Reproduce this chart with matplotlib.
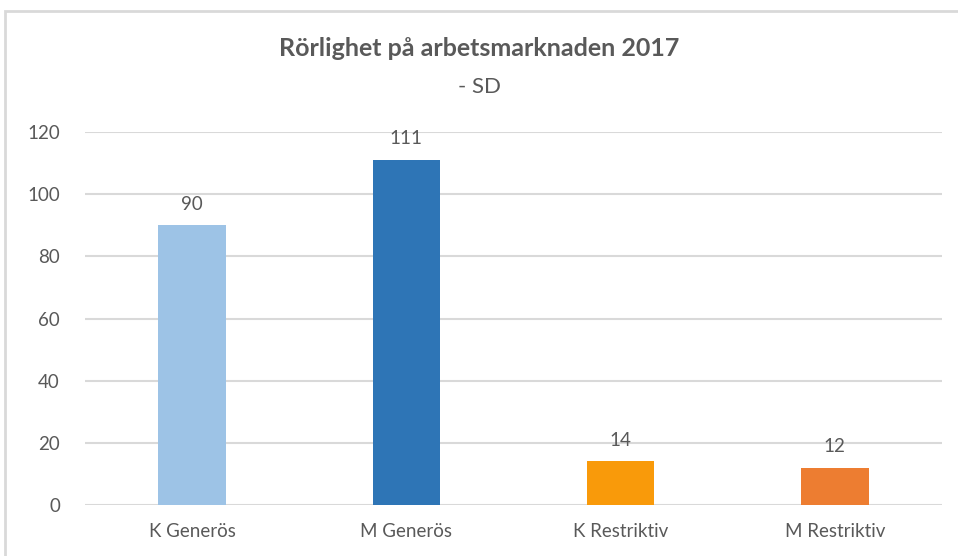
import matplotlib
matplotlib.use("Agg")
import matplotlib.pyplot as plt
from matplotlib.patches import Rectangle

categories = ["K Generös", "M Generös", "K Restriktiv", "M Restriktiv"]
values = [90, 111, 14, 12]
colors = ["#9DC3E6", "#2E75B6", "#F99A0A", "#ED7D31"]
yticks = [0, 20, 40, 60, 80, 100, 120]
title = "Rörlighet på arbetsmarknaden 2017"
subtitle = "- SD"

plt.rcParams['font.family'] = ['Lato', 'DejaVu Sans']
txt = "#595959"

W, H = 958, 556
fig = plt.figure(figsize=(W/100, H/100), dpi=100)
fig.patch.set_facecolor("white")

# outer chart frame
fig.patches.append(Rectangle((5/W, -0.1), 1.2, (H-11)/H + 0.1, transform=fig.transFigure,
                             fill=False, edgecolor="#D9D9D9", linewidth=2))

ax = fig.add_axes([85/W, 1-505/H, (942-85)/W, (505-132)/H])
x = range(len(categories))
bars = ax.bar(x, values, width=0.315, color=colors, zorder=3)
ax.set_xlim(-0.5, 3.5)
ax.set_ylim(0, 120)
ax.set_yticks(yticks)
ax.set_xticks(list(x))
ax.set_xticklabels(categories)
ax.grid(axis="y", color="#D9D9D9", linewidth=1.5, zorder=0)
ax.set_axisbelow(True)
for s in ax.spines.values():
    s.set_visible(False)
ax.tick_params(axis="both", length=0, colors=txt, labelsize=13.5)
ax.tick_params(axis="x", pad=13)
ax.tick_params(axis="y", pad=18)
for b, v in zip(bars, values):
    ax.annotate(str(v), (b.get_x() + b.get_width()/2, v), xytext=(0, 9),
                textcoords="offset points", ha="center", va="bottom",
                fontsize=13.5, color=txt)

fig.text(0.5, 1-48/H, title, ha="center", va="center", fontsize=18,
         fontweight="bold", color=txt)
fig.text(0.5, 1-87/H, subtitle, ha="center", va="center", fontsize=16, color=txt)

fig.savefig("out.png", dpi=100, facecolor="white")
